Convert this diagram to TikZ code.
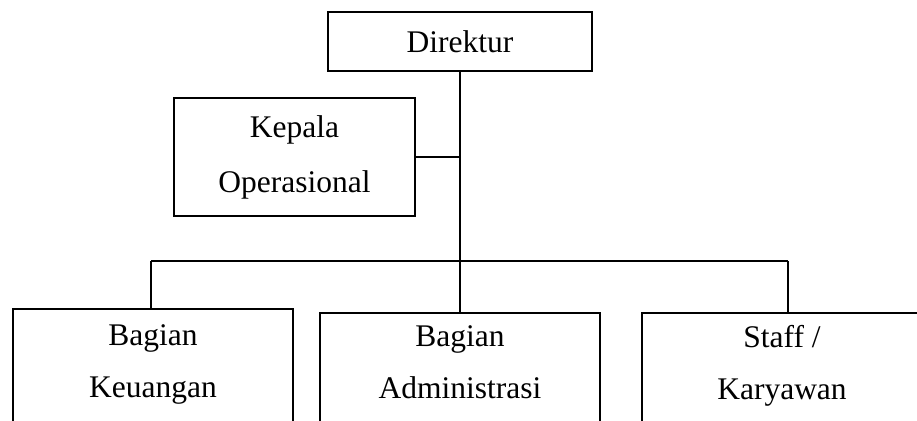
\documentclass[tikz,border=0pt]{standalone}
\usepackage{fontspec}
\setmainfont{Liberation Serif}
\begin{document}
\begin{tikzpicture}[x=1pt,y=-1pt,
  box/.style={draw=black,line width=1.7pt,rectangle,inner sep=0pt,align=center,
    font=\fontsize{31.5}{55}\selectfont},
  lbl/.style={inner sep=0pt,align=center,font=\fontsize{31.5}{52}\selectfont},
  conn/.style={draw=black,line width=1.7pt}]
\useasboundingbox (0,0) rectangle (917,420);
\clip (0,0) rectangle (917,420);
\node[box,minimum width=264pt,minimum height=59pt] (dir) at (460,41.5) {Direktur};
\node[box,minimum width=241pt,minimum height=118pt] (kep) at (294.5,157) {Kepala\\Operasional};
\node[box,minimum width=280pt,minimum height=160pt,anchor=north] (kiri) at (153,308) {};
\node[box,minimum width=280pt,minimum height=160pt,anchor=north] (tengah) at (460,312) {};
\node[box,minimum width=280pt,minimum height=160pt,anchor=north] (kanan) at (782,312) {};
\node[lbl,anchor=base] (t1) at ([yshift=-89pt]kiri.north) {Bagian\\Keuangan};
\node[lbl,anchor=base] (t2) at ([yshift=-86pt]tengah.north) {Bagian\\Administrasi};
\node[lbl,anchor=base] (t3) at ([yshift=-87pt]kanan.north) {Staff /\\Karyawan};
\coordinate (busL) at (151,261);
\coordinate (busR) at (788,261);
\draw[conn] (dir.south) -- (tengah.north);
\draw[conn] (kep.east) -- (kep.east -| dir.south);
\draw[conn] (busL) -- (busR);
\draw[conn] (busL) -- (busL |- kiri.north);
\draw[conn] (busR) -- (busR |- kanan.north);
\end{tikzpicture}
\end{document}
